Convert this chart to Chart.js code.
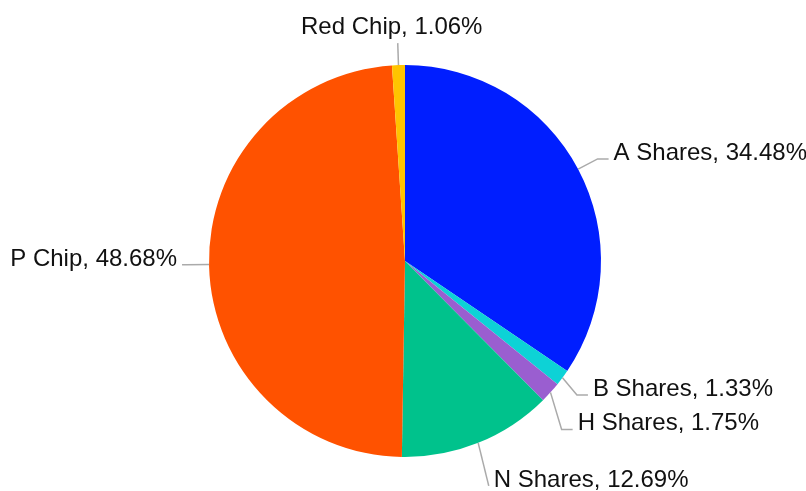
<!DOCTYPE html>
<html>
<head>
<meta charset="utf-8">
<script src="https://cdn.jsdelivr.net/npm/chart.js@4/dist/chart.umd.min.js"></script>
<style>
  body { margin: 0; background: #fff; }
  canvas { display: block; }
</style>
</head>
<body>
<canvas id="pieChart" width="806" height="491"></canvas>
<script>
// données
const categories = ['A Shares', 'B Shares', 'H Shares', 'N Shares', 'P Chip', 'Red Chip'];
const shares = [34.48, 1.33, 1.75, 12.69, 48.68, 1.06];
const colors = ['#001EFF', '#0DD2D6', '#9A5ED0', '#00C28C', '#FF5200', '#FFC400'];

// réglages des traits de rappel (angle en degrés depuis midi, sens horaire)
const leaders = [
  { len: 218 },
  { len: 218, turn: 1.4 },
  { len: 230, turn: 5 },
  { len: 240, turn: 1.5, tail: 0 },
  { len: 218, at: 269, tail: 5 },
  { len: 218 }
];

const labelPlugin = {
  id: 'sliceLabels',
  afterDraw(chart) {
    const ctx = chart.ctx;
    const meta = chart.getDatasetMeta(0);
    ctx.save();
    ctx.font = '24px "Liberation Sans", Arial, sans-serif';
    ctx.fillStyle = '#111111';
    ctx.strokeStyle = '#aaaaaa';
    ctx.lineWidth = 1.5;
    meta.data.forEach((arc, i) => {
      const cfg = leaders[i] || {};
      const cx = arc.x, cy = arc.y, r = arc.outerRadius;
      let a = (arc.startAngle + arc.endAngle) / 2;
      if (cfg.at !== undefined) a = (cfg.at - 90) * Math.PI / 180;
      const b = a + (cfg.turn || 0) * Math.PI / 180;
      const len = cfg.len || 218;
      const x0 = cx + Math.cos(a) * r, y0 = cy + Math.sin(a) * r;
      const x1 = cx + Math.cos(b) * len, y1 = cy + Math.sin(b) * len;
      const text = categories[i] + ', ' + shares[i].toFixed(2) + '%';
      ctx.beginPath();
      ctx.moveTo(x0, y0);
      ctx.lineTo(x1, y1);
      if (Math.abs(x1 - cx) < 15) {
        ctx.stroke();
        ctx.textAlign = 'center';
        ctx.textBaseline = 'alphabetic';
        ctx.fillText(text, x1 - 6, y1 - 9);
        return;
      }
      const side = x1 >= cx ? 1 : -1;
      const tail = cfg.tail !== undefined ? cfg.tail : 11;
      const x2 = x1 + side * tail;
      ctx.lineTo(x2, y1);
      ctx.stroke();
      ctx.textAlign = side > 0 ? 'left' : 'right';
      ctx.textBaseline = 'alphabetic';
      ctx.fillText(text, x2 + side * 5, y1 + 1);
    });
    ctx.restore();
  }
};

const ctx = document.getElementById('pieChart').getContext('2d');
new Chart(ctx, {
  type: 'pie',
  data: {
    labels: categories,
    datasets: [{
      data: shares,
      backgroundColor: colors,
      borderWidth: 0
    }]
  },
  options: {
    responsive: false,
    animation: false,
    layout: { padding: { top: 65, bottom: 34, left: 4, right: 0 } },
    plugins: {
      legend: { display: false },
      tooltip: { enabled: false }
    }
  },
  plugins: [labelPlugin]
});
</script>
</body>
</html>
